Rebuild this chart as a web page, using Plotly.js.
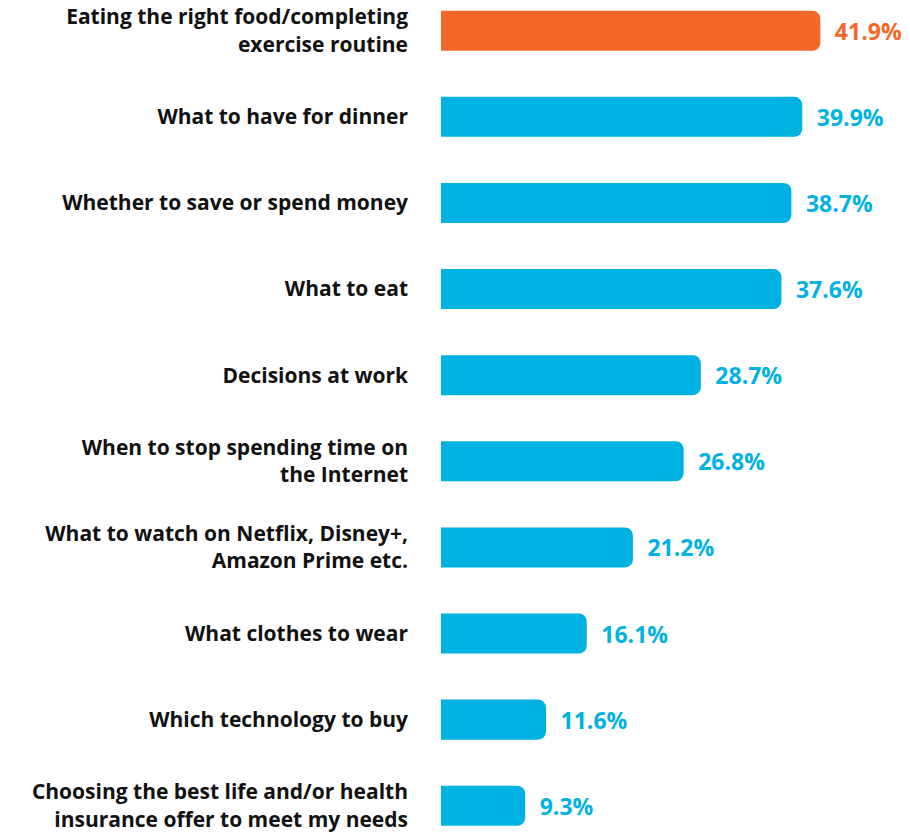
<!DOCTYPE html>
<html><head><meta charset="utf-8">
<script src="https://cdn.plot.ly/plotly-3.0.1.min.js"></script>
<style>html,body{margin:0;padding:0;background:#fff}</style>
</head><body>
<div id="chart" style="width:910px;height:832px"></div>
<script>
const categories = [
  "Eating the right food/completing<br>exercise routine",
  "What to have for dinner",
  "Whether to save or spend money",
  "What to eat",
  "Decisions at work",
  "When to stop spending time on<br>the Internet",
  "What to watch on Netflix, Disney+,<br>Amazon Prime etc.",
  "What clothes to wear",
  "Which technology to buy",
  "Choosing the best life and/or health<br>insurance offer to meet my needs"
];
const values = [41.9, 39.9, 38.7, 37.6, 28.7, 26.8, 21.2, 16.1, 11.6, 9.3];
const labels = values.map(v => "\u2002" + v.toFixed(1) + "%");
const ORANGE = "#F4672A", BLUE = "#00B2E2";
const colors = values.map((v, i) => i === 0 ? ORANGE : BLUE);

Plotly.newPlot("chart", [{
  type: "bar", orientation: "h",
  x: values, y: categories,
  marker: {color: colors, cornerradius: 8},
  text: labels, textposition: "outside", cliponaxis: false, constraintext: "none",
  textfont: {family: "'Open Sans', Lato, sans-serif", size: 23, color: colors, weight: 700},
  hoverinfo: "none"
}], {
  width: 910, height: 832,
  margin: {l: 441, r: 0, t: 0, b: 0},
  paper_bgcolor: "#fff", plot_bgcolor: "#fff",
  showlegend: false,
  bargap: 0.535,
  xaxis: {range: [0, 51.8], visible: false, fixedrange: true},
  yaxis: {type: "category", range: [9.305, -0.357], showgrid: false, zeroline: false,
          showline: false, ticks: "", ticklabelstandoff: 32,
          tickfont: {family: "'Open Sans', Lato, sans-serif", size: 21, color: "#111", weight: 700}},
  font: {family: "'Open Sans', sans-serif"}
}, {staticPlot: true, displayModeBar: false});
</script>
</body></html>
